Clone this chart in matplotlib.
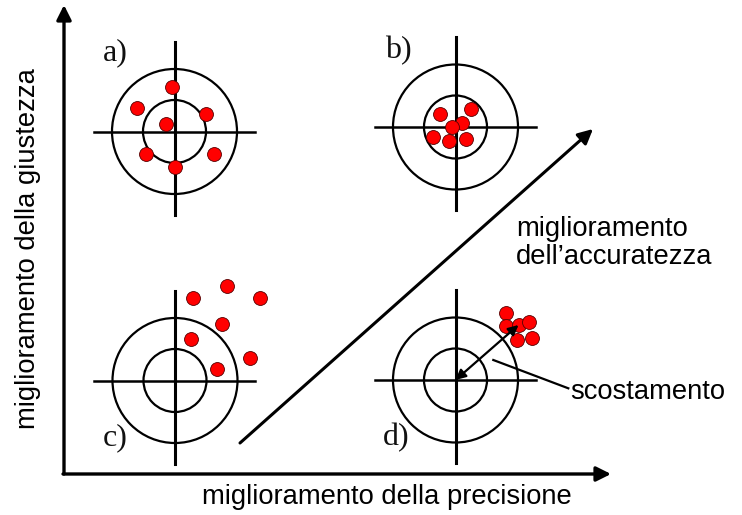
import matplotlib
matplotlib.use("Agg")
import matplotlib.pyplot as plt
from matplotlib.patches import Circle
import numpy as np

# ---- data (pixel-space layout of the schematic) ----
panel_labels = ["a)", "b)", "c)", "d)"]
centers_x = [174.5, 455.5, 175.0, 455.5]
centers_y = [131.5, 127.0, 380.5, 380.0]
label_x = [115, 398, 115, 396]
label_y = [53, 51, 438, 438]

# dot offsets (dx, dy) relative to each target centre
dots_a_dx = [-2.6, -37.6, 31.4, -8.6, -28.6, 39.0, 0.0]
dots_a_dy = [-44.8, -23.2, -17.2, -7.2, 22.8, 22.8, 35.2]
dots_b_dx = [-16.0, 15.0, 6.7, -3.3, -22.3, -6.7, 10.0]
dots_b_dy = [-12.7, -18.0, -4.3, 0.3, 10.3, 13.7, 12.0]
dots_c_dx = [17.7, 52.3, 85.0, 47.3, 16.0, 75.0, 42.3]
dots_c_dy = [-82.2, -94.8, -82.2, -56.5, -41.2, -22.2, -11.5]
dots_d_dx = [50.2, 50.2, 63.5, 73.8, 61.2, 76.2]
dots_d_dy = [-66.7, -54.0, -55.0, -58.3, -40.0, -41.7]

outer_r = 62.5
inner_r = 31.5

x_label = "miglioramento della precisione"
y_label = "miglioramento della giustezza"
diag_label = "miglioramento\ndell\u2019accuratezza"
offset_label = "scostamento"

W, H = 742, 515
fig = plt.figure(figsize=(W / 100, H / 100), dpi=100)
ax = fig.add_axes([0, 0, 1, 1])
ax.set_xlim(0, W)
ax.set_ylim(H, 0)
ax.axis("off")

sans = "Liberation Sans"
serif = "Liberation Serif"
fs = 19.7

dots = [(dots_a_dx, dots_a_dy), (dots_b_dx, dots_b_dy),
        (dots_c_dx, dots_c_dy), (dots_d_dx, dots_d_dy)]

for i in range(4):
    cx, cy = centers_x[i], centers_y[i]
    ax.add_patch(Circle((cx, cy), outer_r, fill=False, lw=1.6, ec="black", zorder=2))
    ax.add_patch(Circle((cx, cy), inner_r, fill=False, lw=1.6, ec="black", zorder=2))
    ax.plot([cx - 81, cx + 80], [cy, cy], color="black", lw=1.8, zorder=2)
    ax.plot([cx, cx], [cy - 90, cy + 83], color="black", lw=2.2, zorder=2)
    dx, dy = dots[i]
    ax.scatter(cx + np.array(dx), cy + np.array(dy), s=100, color="#ff0000",
               edgecolors="#550000", linewidths=0.6, zorder=4)
    ax.text(label_x[i], label_y[i], panel_labels[i], family=serif, fontsize=23,
            ha="center", va="center", color="#111111", zorder=5)

# main axes arrows
ax.annotate("", xy=(64, 5), xytext=(64, 474),
            arrowprops=dict(arrowstyle="-|>", lw=2.4, color="black",
                            mutation_scale=22, shrinkA=0, shrinkB=0))
ax.annotate("", xy=(611, 474), xytext=(63, 474),
            arrowprops=dict(arrowstyle="-|>", lw=2.4, color="black",
                            mutation_scale=22, shrinkA=0, shrinkB=0))

# diagonal accuracy arrow
ax.annotate("", xy=(593, 129), xytext=(240, 443),
            arrowprops=dict(arrowstyle="-|>", lw=2.2, color="black",
                            mutation_scale=22, shrinkA=0, shrinkB=0))

# offset double arrow in panel d
ax.annotate("", xy=(518.5, 325), xytext=(centers_x[3], centers_y[3]),
            arrowprops=dict(arrowstyle="<|-|>", lw=1.6, color="black",
                            mutation_scale=15, shrinkA=0, shrinkB=0), zorder=5)
ax.plot([493.3, 568.3], [360, 388.3], color="black", lw=1.6, zorder=2)

ax.text(570, 392, offset_label, family=sans, fontsize=fs, ha="left", va="center")
ax.text(516, 243, diag_label, family=sans, fontsize=fs, ha="left", va="center",
        linespacing=1.05)
ax.text(387, 497, x_label, family=sans, fontsize=fs, ha="center", va="center")
ax.text(28, 249, y_label, family=sans, fontsize=fs, ha="center", va="center",
        rotation=90)

fig.savefig("out.png", dpi=100)
